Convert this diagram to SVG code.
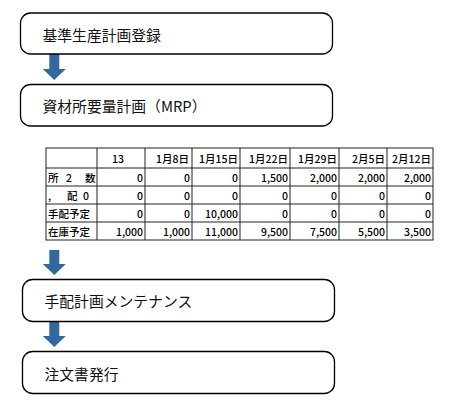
<svg xmlns="http://www.w3.org/2000/svg" width="451" height="411" viewBox="0 0 451 411">
<style>
.box{fill:#fff;stroke:#000;stroke-width:1.3}
.lbl{font-family:"Noto Sans CJK JP","Noto Sans",sans-serif;font-size:14.8px;fill:#111;dominant-baseline:central}
.arr{fill:#33689e}
.grid{stroke:#222;stroke-width:1;fill:none}
.t{font-family:"Noto Sans CJK JP","Liberation Sans",sans-serif;font-size:10.5px;font-weight:500;fill:#000;dominant-baseline:central}
.n{text-anchor:end}
</style>
<rect width="451" height="411" fill="#fff"/>
<g id="connectors">
<polygon class="arr" points="49.3,54 59.3,54 59.3,69 65.8,69 54.3,80 42.8,69 49.3,69"/>
<polygon class="arr" points="49.3,250 59.3,250 59.3,264 65.8,264 54.3,275 42.8,264 49.3,264"/>
<polygon class="arr" points="49.3,321 59.3,321 59.3,336 65.8,336 54.3,347 42.8,336 49.3,336"/>
</g>
<g id="node1"><rect class="box" x="20.5" y="13" width="312" height="41" rx="10"/><text class="lbl" x="42.5" y="34">基準生産計画登録</text></g>
<g id="node2"><rect class="box" x="20.5" y="84.5" width="312" height="41.5" rx="10"/><text class="lbl" x="42.5" y="105.5">資材所要量計画（MRP）</text></g>
<g id="table">
<rect class="grid" x="46" y="148" width="387" height="92"/>
<path class="grid" d="M46 168H433M46 186H433M46 204H433M46 222H433M97 148V240M145 148V240M192 148V240M240 148V240M290 148V240M339 148V240M387 148V240"/>
<text class="t" x="118" y="158" text-anchor="middle">13</text>
<g class="t n">
<text x="189" y="158">1月8日</text><text x="238" y="158">1月15日</text><text x="288" y="158">1月22日</text><text x="337" y="158">1月29日</text><text x="385" y="158">2月5日</text><text x="431" y="158">2月12日</text>
</g>
<text class="t" x="48" y="177">所</text><text class="t" x="66" y="177">2</text><text class="t" x="85" y="177">数</text>
<text class="t" x="48" y="195">,</text><text class="t" x="67" y="195">配</text><text class="t" x="83" y="195">0</text>
<text class="t" x="48" y="213">手配予定</text>
<text class="t" x="48" y="231">在庫予定</text>
<g class="t n">
<text x="143" y="177">0</text><text x="190" y="177">0</text><text x="238" y="177">0</text><text x="288" y="177">1,500</text><text x="337" y="177">2,000</text><text x="385" y="177">2,000</text><text x="431" y="177">2,000</text>
<text x="143" y="195">0</text><text x="190" y="195">0</text><text x="238" y="195">0</text><text x="288" y="195">0</text><text x="337" y="195">0</text><text x="385" y="195">0</text><text x="431" y="195">0</text>
<text x="143" y="213">0</text><text x="190" y="213">0</text><text x="238" y="213">10,000</text><text x="288" y="213">0</text><text x="337" y="213">0</text><text x="385" y="213">0</text><text x="431" y="213">0</text>
<text x="143" y="231">1,000</text><text x="190" y="231">1,000</text><text x="238" y="231">11,000</text><text x="288" y="231">9,500</text><text x="337" y="231">7,500</text><text x="385" y="231">5,500</text><text x="431" y="231">3,500</text>
</g>
</g>
<g id="node3"><rect class="box" x="22.5" y="279.5" width="312" height="42" rx="10"/><text class="lbl" x="44.5" y="300.8">手配計画メンテナンス</text></g>
<g id="node4"><rect class="box" x="22.5" y="351.5" width="312" height="42" rx="10"/><text class="lbl" x="44.5" y="373">注文書発行</text></g>
</svg>
